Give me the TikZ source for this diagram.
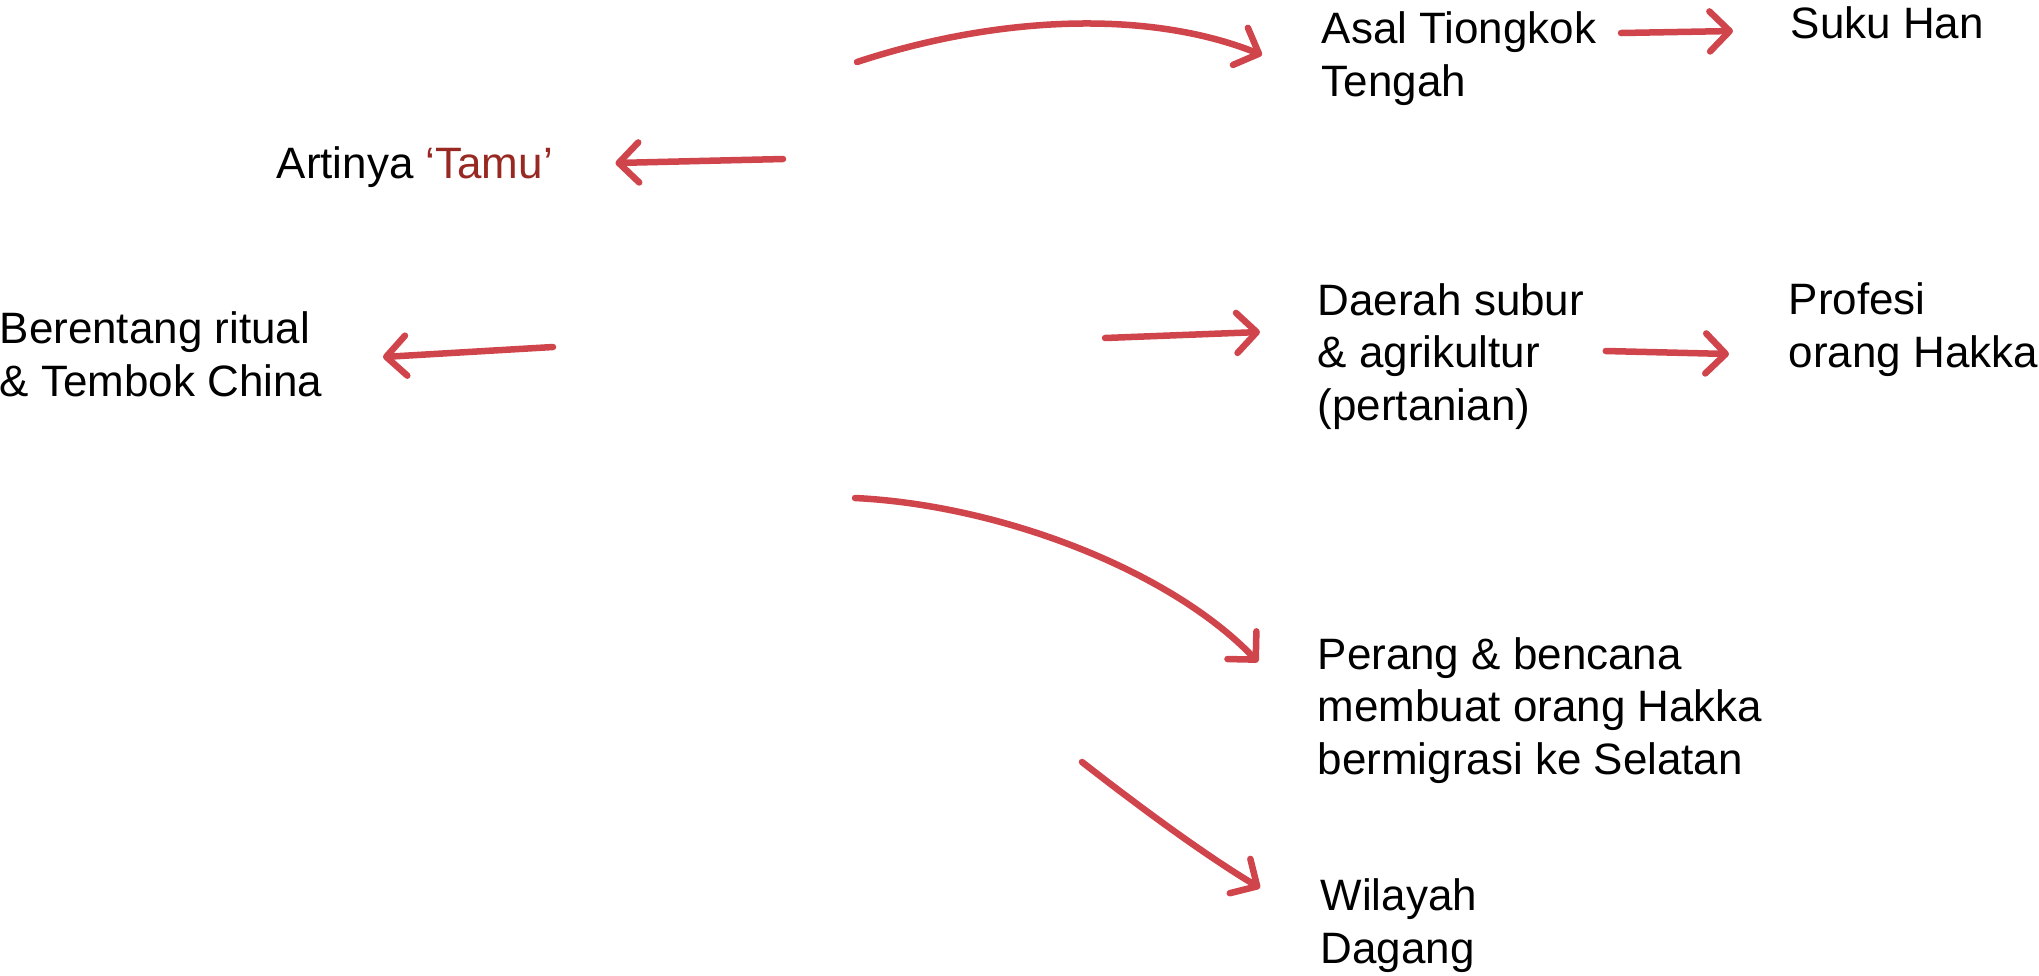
\documentclass[tikz,border=0pt]{standalone}
\usepackage{fontspec}
\setmainfont{Liberation Sans}
\usepackage{xcolor}
\usetikzlibrary{arrows.meta,calc,positioning}
\definecolor{arrred}{RGB}{208,69,76}
\definecolor{tamured}{RGB}{152,40,34}
\tikzset{
  txt/.style={anchor=base west,inner sep=0pt,align=left,
    font=\fontsize{12.5}{14.8}\selectfont},
  harrow/.style={draw=arrred,line width=0.065cm,line cap=round,
    -{Straight Barb[round,length=0.2cm,width=0.4cm]}},
}
\begin{document}
\begin{tikzpicture}[x=0.01cm,y=-0.01cm]
  \useasboundingbox (0,0) rectangle (2039,975);

  % base = baseline of the last line
  \node [txt] (asal) at (1321,96) {Asal Tiongkok\\Tengah};
  \node [txt] (suku) at (1790,38) {Suku Han};
  \node [txt] (arti) at (276,178) {Artinya \textcolor{tamured}{‘Tamu’}};
  \node [txt] (bent) at (-1,396) {Berentang ritual\\\& Tembok China};
  \node [txt] (daerah) at (1317,420) {Daerah subur\\\& agrikultur\\(pertanian)};
  \node [txt] (prof) at (1788,367) {Profesi\\orang Hakka};
  \node [txt] (perang) at (1317,774) {Perang \& bencana\\membuat orang Hakka\\bermigrasi ke Selatan};
  \node [txt] (wil) at (1320,963) {Wilayah\\Dagang};

  % loose tails
  \coordinate (s1) at (857,62);
  \coordinate (s3) at (783,159);
  \coordinate (s4) at (553,347);
  \coordinate (s5) at (1105,338);
  \coordinate (s7) at (855,498);
  \coordinate (s8) at (1082,762);

  \draw [harrow] (s1) .. controls (1000,15) and (1150,10) .. ($(asal.base west)+(-59,-41)$);
  \draw [harrow] ($(asal.base west)+(300,-63)$) -- ($(suku.base west)+(-57,-7)$);
  \draw [harrow] (s3) -- ($(arti.base east)+(62,-15)$);
  \draw [harrow] (s4) -- ($(bent.base east)+(60,-39)$);
  \draw [harrow] (s5) -- ($(daerah.base west)+(-57,-88)$);
  \draw [harrow] ($(daerah.base east)+(21,-69)$) -- ($(prof.base west)+(-59,-13)$);
  \draw [harrow] (s7) .. controls (1000,505) and (1170,570) .. ($(perang.base west)+(-59,-112)$);
  \draw [harrow] (s8) .. controls (1150,815) and (1210,858) .. ($(wil.base west)+(-60,-75)$);

\end{tikzpicture}
\end{document}
